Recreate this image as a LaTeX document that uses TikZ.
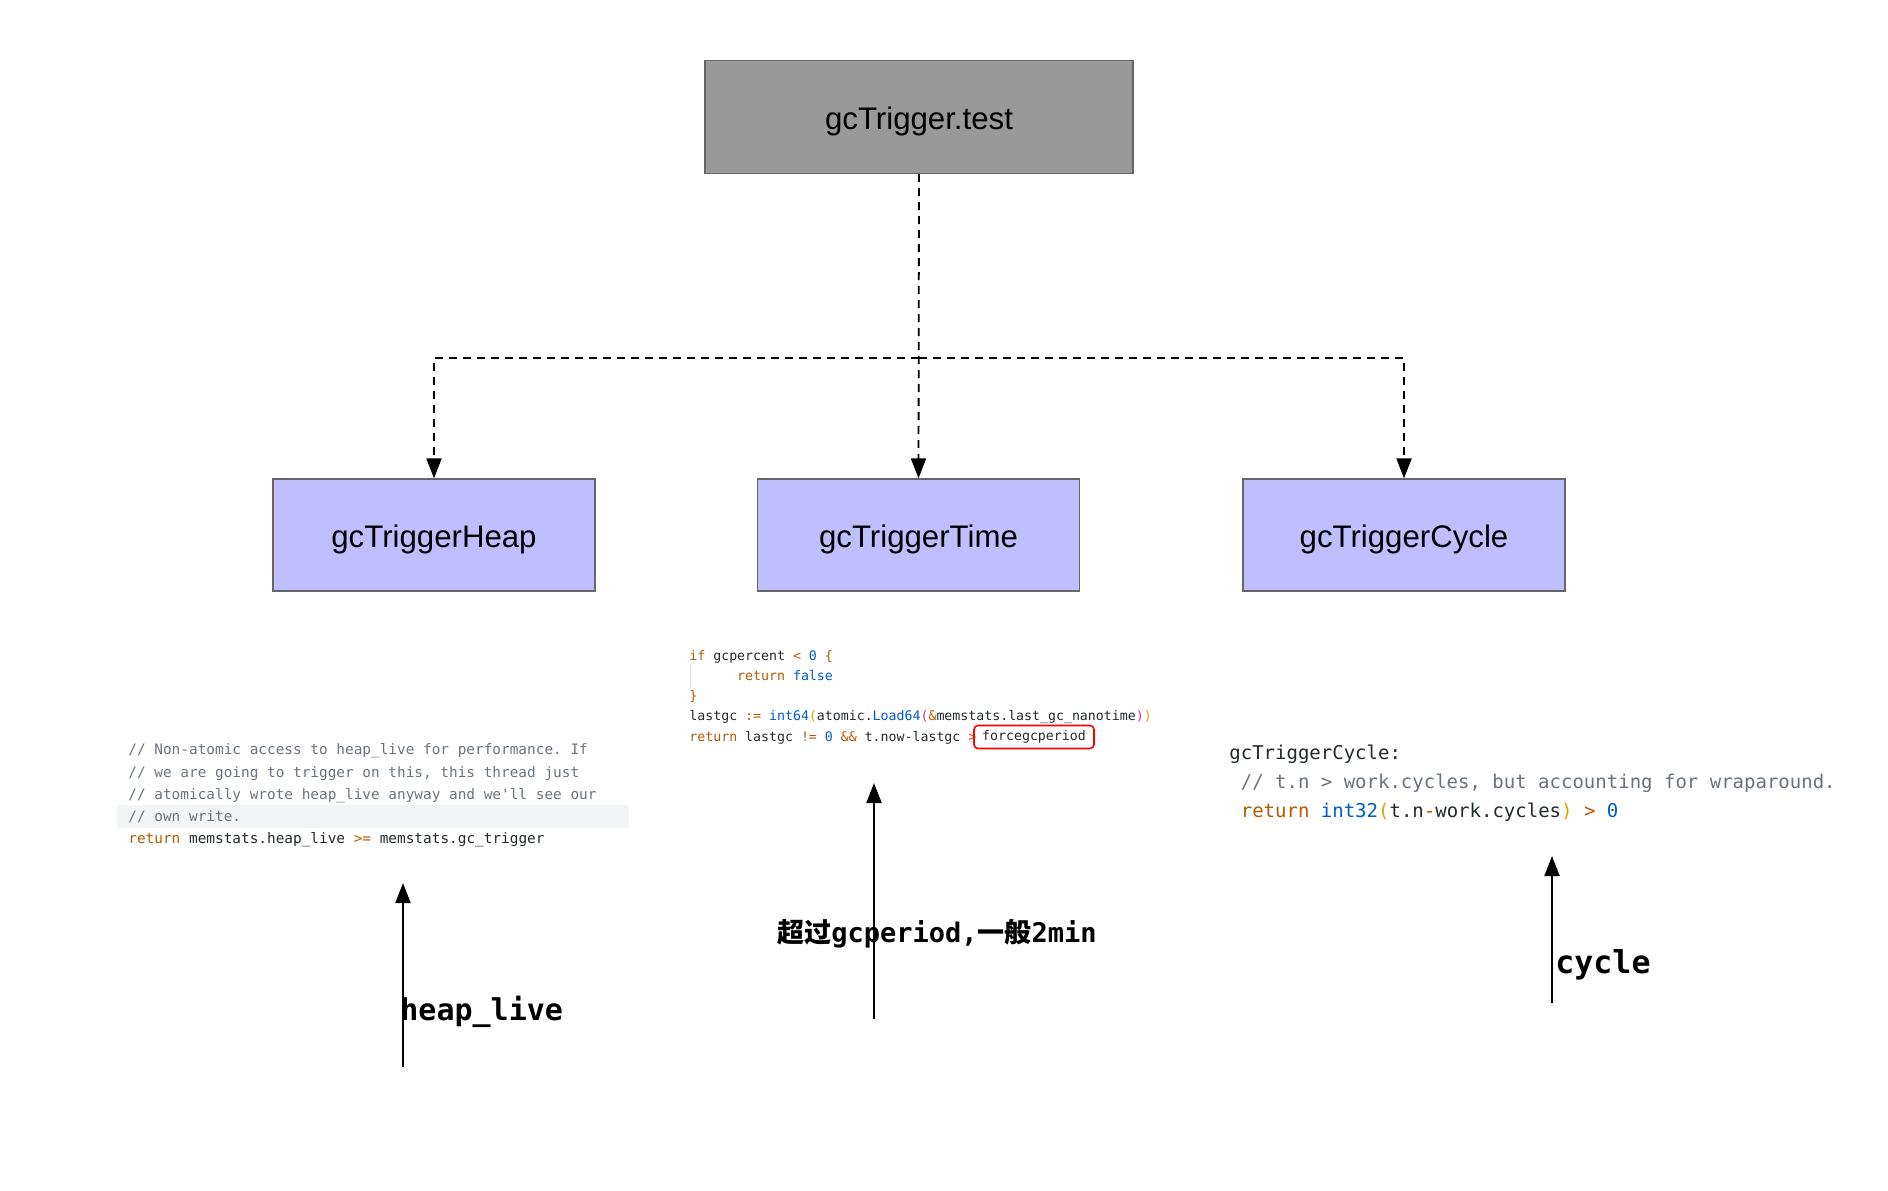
\documentclass[tikz,border=0pt]{standalone}
\usepackage{fontspec}
\setmainfont{Liberation Sans}
\setmonofont{DejaVu Sans Mono}
\newfontfamily\cjk{Noto Sans CJK SC}
\usetikzlibrary{arrows.meta,positioning}
\definecolor{boxgray}{HTML}{999999}
\definecolor{boxblue}{HTML}{BFBFFF}
\definecolor{edgegray}{HTML}{666666}
\definecolor{cmtgray}{HTML}{6A737D}
\definecolor{kworange}{HTML}{B35A00}
\definecolor{numblue}{HTML}{005CC5}
\definecolor{parenyellow}{HTML}{E0A000}
\definecolor{parenpink}{HTML}{D1339B}
\definecolor{codedark}{HTML}{24292E}
\definecolor{hlband}{HTML}{F3F4F6}
\newcommand{\kwd}[1]{\textcolor{kworange}{#1}}
\newcommand{\numv}[1]{\textcolor{numblue}{#1}}
\newcommand{\cmtx}[1]{\textcolor{cmtgray}{#1}}
\newcommand{\pary}[1]{\textcolor{parenyellow}{#1}}
\newcommand{\parp}[1]{\textcolor{parenpink}{#1}}

\begin{document}
\begin{tikzpicture}[x=0.5pt,y=-0.5pt]
		\useasboundingbox (0,0) rectangle (1888,1190);
		\tikzset{TopStyle/.style = {rectangle, draw=edgegray, fill=boxgray, line width=0.6pt,
				minimum width=214pt, minimum height=56.5pt, text height=12pt, text depth=0pt,
				font=\fontsize{15.6}{18}\selectfont},
			TriggerStyle/.style = {rectangle, draw=edgegray, fill=boxblue, line width=0.6pt,
				minimum width=161pt, minimum height=56pt, text height=12pt, text depth=0pt,
				font=\fontsize{15.6}{18}\selectfont},
			DashEdge/.style = {dash pattern=on 4pt off 3pt, line width=0.9pt, -{Triangle[length=10pt,width=7.5pt]}},
			UpEdge/.style = {line width=1pt, -{Triangle[length=10pt,width=7.5pt]}},
			CodeHeap/.style = {anchor=base west, inner sep=0pt, text=codedark, font=\ttfamily\fontsize{7.2}{9}\selectfont},
			CodeTime/.style = {anchor=base west, inner sep=0pt, text=codedark, font=\ttfamily\fontsize{6.62}{8}\selectfont},
			CodeCycle/.style = {anchor=base west, inner sep=0pt, text=codedark, font=\ttfamily\fontsize{9.5}{11}\selectfont},
			NoteStyle/.style = {anchor=base west, inner sep=0pt, font=\ttfamily\bfseries\fontsize{15}{18}\selectfont}}
		\node[TopStyle] (test) at (919,117) {gcTrigger.test};
		\node[TriggerStyle] (heap) at (434,535) {gcTriggerHeap};
		\node[TriggerStyle] (time) at (918.5,535) {gcTriggerTime};
		\node[TriggerStyle] (cycle) at (1404,535) {gcTriggerCycle};
		\coordinate (split) at (919,358);
		\draw[DashEdge] (test.south) -- (time.north);
		\draw[DashEdge] (split) -| (heap.north);
		\draw[DashEdge] (split) -| (cycle.north);
		% heap snippet
		\fill[hlband] (117,805) rectangle (629,828);
		\node[CodeHeap] (heap1) at (128,754) {\cmtx{// Non-atomic access to heap\_live for performance. If}};
		\node[CodeHeap] (heap2) at (128,777) {\cmtx{// we are going to trigger on this, this thread just}};
		\node[CodeHeap] (heap3) at (128,799) {\cmtx{// atomically wrote heap\_live anyway and we'll see our}};
		\node[CodeHeap] (heap4) at (128,821) {\cmtx{// own write.}};
		\node[CodeHeap] (heap5) at (128,843) {\kwd{return} memstats.heap\_live \kwd{>=} memstats.gc\_trigger};
		% time snippet
		\draw[gray!25, line width=0.4pt] (690,665) -- (690,687);
		\node[CodeTime] (time1) at (689,660) {\kwd{if} gcpercent \kwd{<} \numv{0} \kwd{\{}};
		\node[CodeTime] (time2) at (689,680) {\hphantom{xxxxxx}\kwd{return} \numv{false}};
		\node[CodeTime] (time3) at (689,700) {\kwd{\}}};
		\node[CodeTime] (time4) at (689,720) {lastgc \kwd{:=} \numv{int64}\pary{(}atomic.\numv{Load64}\parp{(}\kwd{\&}memstats.last\_gc\_nanotime\parp{)}\pary{)}};
		\node[CodeTime] (time5) at (689,741) {\kwd{return} lastgc \kwd{!=} \numv{0} \kwd{\&\&} t.now-lastgc \kwd{>}};
		\node[draw=red, rounded corners=2pt, line width=0.8pt, inner sep=0pt, minimum width=60pt,
			minimum height=11.5pt, text=codedark, font=\ttfamily\fontsize{6.62}{8}\selectfont] (period) at (1034,737) {forcegcperiod};
		% cycle snippet
		\node[CodeCycle] (cycle1) at (1229,759.5) {gcTriggerCycle:};
		\node[CodeCycle] (cycle2) at (1229,788.5) {\ \cmtx{// t.n > work.cycles, but accounting for wraparound.}};
		\node[CodeCycle] (cycle3) at (1229,817.5) {\ \kwd{return} \numv{int32}\pary{(}t.n\kwd{-}work.cycles\pary{)} \kwd{>} \numv{0}};
		% notes
		\coordinate (heapfoot) at (403,1067);
		\coordinate (heaptip) at (403,883);
		\coordinate (timefoot) at (874,1019);
		\coordinate (timetip) at (874,783);
		\coordinate (cyclefoot) at (1552,1003);
		\coordinate (cycletip) at (1552,856);
		\draw[UpEdge] (heapfoot) -- (heaptip);
		\draw[UpEdge] (timefoot) -- (timetip);
		\draw[UpEdge] (cyclefoot) -- (cycletip);
		\node[NoteStyle] (heaplive) at (400,1020) {heap\_live};
		\node[NoteStyle, font=\ttfamily\bfseries\fontsize{13.5}{16}\selectfont] (timenote) at (777,942) {{\cjk 超过}gcperiod,{\cjk 一般}2min};
		\node[NoteStyle, font=\ttfamily\bfseries\fontsize{15.8}{18}\selectfont] (cyclenote) at (1555,973) {cycle};
\end{tikzpicture}
\end{document}
